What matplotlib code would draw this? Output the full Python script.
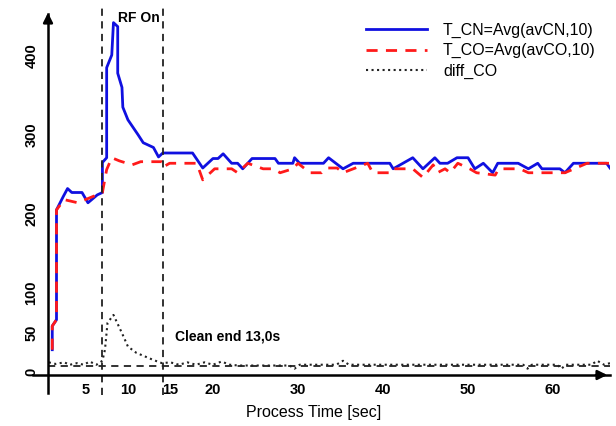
import matplotlib.pyplot as plt

plt.rcParams["font.family"] = ["Liberation Sans", "DejaVu Sans"]

# T_CN (blue)
cn_t = [1.1, 1.1, 1.6, 1.6, 2.4, 2.9, 3.4, 4.6, 5.3, 6.4, 7.0, 7.0, 7.5, 7.5, 8.1, 8.3, 8.8, 8.8,
        9.3, 9.4, 10.0, 11.2, 11.8, 13.0, 13.6, 14.1, 14.6, 17.6, 18.8, 20.0, 20.6, 21.2, 22.2,
        22.9, 23.5, 24.6, 27.3, 27.7, 29.4, 29.6, 30.2, 33.0, 33.6, 35.3, 36.5, 40.8, 41.2, 43.5,
        44.7, 46.1, 46.7, 47.6, 48.7, 50.0, 50.8, 51.8, 52.9, 53.5, 55.9, 57.1, 58.2, 58.7, 60.8,
        61.4, 62.4, 66.3, 66.7]
cn_v = [28, 58, 66, 205, 222, 232, 227, 227, 214, 224, 227, 265, 271, 385, 401, 442, 437, 378,
        360, 335, 319, 300, 290, 284, 272, 277, 277, 277, 258, 270, 270, 276, 264,
        264, 257, 270, 270, 264, 264, 271, 264, 264, 271, 257, 264, 264, 257, 271,
        257, 271, 264, 264, 271, 271, 257, 264, 252, 264, 264, 257, 264, 257, 257,
        252, 264, 264, 258]

# T_CO (red)
co_t = [1.1, 1.1, 1.6, 1.6, 2.5, 4.1, 5.9, 7.0, 7.5, 8.1, 9.0, 10.5, 11.5, 14.0, 14.1, 14.9, 18.1,
        18.8, 20.2, 22.2, 22.9, 24.1, 25.9, 27.1, 27.9, 29.4, 30.0, 31.4, 32.8, 33.4, 34.6, 35.3,
        38.2, 38.8, 40.8, 41.0, 43.5, 44.7, 45.9, 46.4, 47.3, 47.9, 48.8, 50.2, 51.0, 53.2, 53.6,
        56.1, 57.1, 59.3, 61.4, 64.0, 66.7]
co_v = [28, 58, 66, 205, 218, 214, 222, 227, 256, 271, 267, 262, 266, 266, 259, 264, 264,
        243, 257, 257, 252, 264, 257, 257, 252, 257, 264, 252, 252, 258, 258, 252,
        264, 252, 252, 257, 257, 246, 262, 252, 257, 252, 264, 257, 252, 249, 257,
        257, 252, 252, 252, 264, 264]

# diff_CO (dotted)
diff_t = [0.7, 1.5, 2.5, 3.2, 4.0, 4.8, 5.5, 6.3, 7.0, 7.3, 7.6, 8.3, 9.3, 10.0, 11.0, 13.0,
          14.0, 15.0, 16.0, 17.0, 18.0, 19.0, 20.0, 21.0, 22.0, 23.0, 29.0, 29.6, 30.2, 34.5,
          35.3, 36.0, 56.5, 57.0, 57.5, 60.5, 61.0, 61.5, 64.5, 65.2, 66.0, 66.7]
diff_v = [12, 10, 12, 9, 11, 9, 13, 9, 14, 28, 62, 72, 49, 32, 24, 15,
          11, 12, 9, 12, 9, 12, 9, 13, 9, 8, 8, 4, 9, 9,
          14, 9, 9, 4, 9, 9, 4, 9, 9, 14, 9, 11]

xticks = [5, 10, 15, 20, 30, 40, 50, 60]
yticks = [0, 50, 100, 200, 300, 400]
events = [7.0, 14.1]
baseline = 8

fig = plt.figure(figsize=(6.16, 4.26), dpi=100)
ax = fig.add_axes([48/616, 51/426, 562/616, 365/426])

ax.plot(cn_t, cn_v, color="#1010e0", lw=2.0, label="T_CN=Avg(avCN,10)")
ax.plot(co_t, co_v, color="#ff1a1a", lw=2.0, dashes=(4, 3), label="T_CO=Avg(avCO,10)")
ax.plot(diff_t, diff_v, color="#222222", lw=1.5, ls=":", label="diff_CO")
ax.axhline(baseline, color="#222222", lw=1.3, dashes=(4, 3))

for e in events:
    ax.axvline(e, ymin=-0.055, ymax=1.005, color="#222222", lw=1.3, dashes=(4, 3), clip_on=False)

ax.set_xlim(0.6, 66.7)
ax.set_ylim(-4, 458)

for s in ax.spines.values():
    s.set_visible(False)

# axes lines with arrows
ax.plot([-0.027, 1.0], [0, 0], transform=ax.transAxes, color="black", lw=1.8, clip_on=False)
ax.plot([0, 0], [-0.05, 0.99], transform=ax.transAxes, color="black", lw=1.8, clip_on=False)
ax.annotate("", xy=(1.0, 0), xytext=(0.97, 0), xycoords="axes fraction",
            arrowprops=dict(arrowstyle="-|>", color="black", lw=1.8, mutation_scale=14))
ax.annotate("", xy=(0, 1.0), xytext=(0, 0.96), xycoords="axes fraction",
            arrowprops=dict(arrowstyle="-|>", color="black", lw=1.8, mutation_scale=14))

ax.set_xticks(xticks)
ax.set_yticks(yticks)
ax.tick_params(length=0, labelsize=10.5)
ax.tick_params(axis="x", pad=6)
ax.tick_params(axis="y", pad=7)
for lab in ax.get_xticklabels():
    lab.set_fontweight("bold")
for lab in ax.get_yticklabels():
    lab.set_fontweight("bold")
    lab.set_rotation(90)
    lab.set_va("center")

ax.text(11.3, 448, "RF On", fontsize=10, fontweight="bold", ha="center", va="center")
ax.text(15.5, 45, "Clean end 13,0s", fontsize=10, fontweight="bold", ha="left", va="center")

fig.text(314/616, 1 - 412/426, "Process Time [sec]", fontsize=11.5, ha="center", va="center")

ax.legend(loc="upper left", bbox_to_anchor=(352/616, 1 - 8/426), bbox_transform=fig.transFigure,
          frameon=False, fontsize=11.5, handlelength=3.8, labelspacing=0.35, handletextpad=1.0)

plt.savefig("out.png", dpi=100)
